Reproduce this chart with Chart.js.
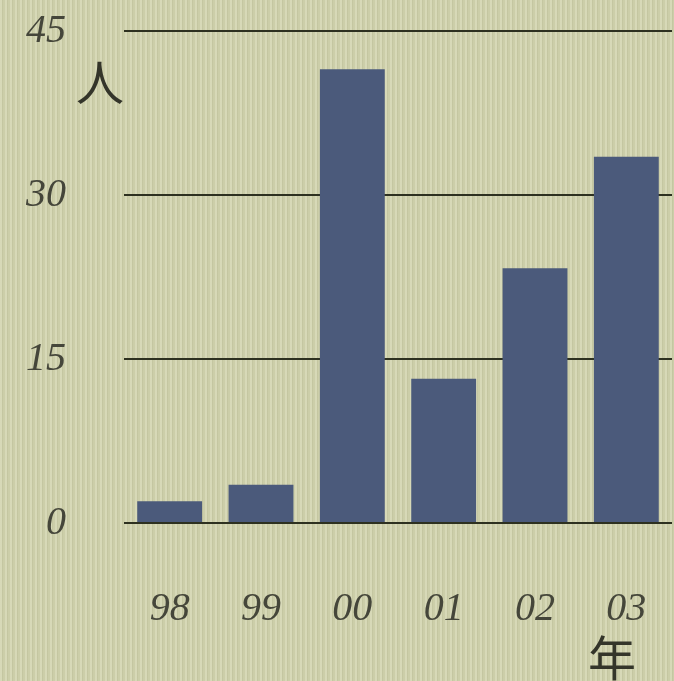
<!DOCTYPE html>
<html>
<head>
<meta charset="utf-8">
<script src="https://cdn.jsdelivr.net/npm/chart.js@4"></script>
<style>
  html, body { margin: 0; padding: 0; }
  body {
    width: 674px; height: 681px; overflow: hidden;
    background-color: #cccea9;
    background-image: repeating-linear-gradient(90deg,
      rgba(255,255,235,0.22) 0px, rgba(255,255,235,0.22) 2px,
      rgba(110,110,70,0.08) 2px, rgba(110,110,70,0.08) 3px,
      rgba(255,255,235,0.0) 3px, rgba(255,255,235,0.0) 5px);
  }
  #wrap { position: relative; width: 674px; height: 681px; }
</style>
</head>
<body>
<div id="wrap"><canvas id="c" width="674" height="681"></canvas></div>
<script>
const categories = ["98", "99", "00", "01", "02", "03"];
const people = [2, 3.5, 41.5, 13.2, 23.3, 33.5];
const yTicks = [0, 15, 30, 45];
const yUnit = "人";
const xUnit = "年";

const unitPlugin = {
  id: 'units',
  afterDraw(chart) {
    const ctx = chart.ctx;
    ctx.save();
    ctx.fillStyle = '#34352a';
    ctx.font = '48px "Noto Sans CJK JP"';
    ctx.textAlign = 'center';
    ctx.textBaseline = 'middle';
    ctx.fillText(yUnit, 100, 82);
    ctx.fillText(xUnit, 612, 658);
    ctx.restore();
  }
};

new Chart(document.getElementById('c'), {
  type: 'bar',
  data: {
    labels: categories,
    datasets: [{
      data: people,
      backgroundColor: '#4b5a7b',
      borderWidth: 0,
      barPercentage: 0.71,
      categoryPercentage: 1.0
    }]
  },
  options: {
    responsive: false,
    animation: false,
    layout: { padding: { top: 31, right: 2, left: 0, bottom: 0 } },
    plugins: { legend: { display: false }, tooltip: { enabled: false } },
    scales: {
      x: {
        grid: { display: false, drawTicks: false },
        border: { display: false },
        ticks: {
          color: '#45463a',
          font: { family: '"Liberation Serif"', style: 'italic', size: 40 },
          padding: 62
        },
        afterFit(scale) {
          scale.height = 158;
          scale.paddingLeft = 0; scale.paddingRight = 0;
          scale.paddingTop = 0; scale.paddingBottom = 0;
        }
      },
      y: {
        min: 0, max: 45,
        afterBuildTicks(scale) { scale.ticks = yTicks.map(v => ({ value: v })); },
        grid: { color: '#2e3120', lineWidth: 2, drawTicks: false },
        border: { display: false },
        ticks: {
          color: '#45463a',
          font: { family: '"Liberation Serif"', style: 'italic', size: 40 },
          padding: 58
        },
        afterFit(scale) {
          scale.width = 124;
          scale.paddingLeft = 0; scale.paddingRight = 0;
          scale.paddingTop = 0; scale.paddingBottom = 0;
        }
      }
    }
  },
  plugins: [unitPlugin]
});
</script>
</body>
</html>
